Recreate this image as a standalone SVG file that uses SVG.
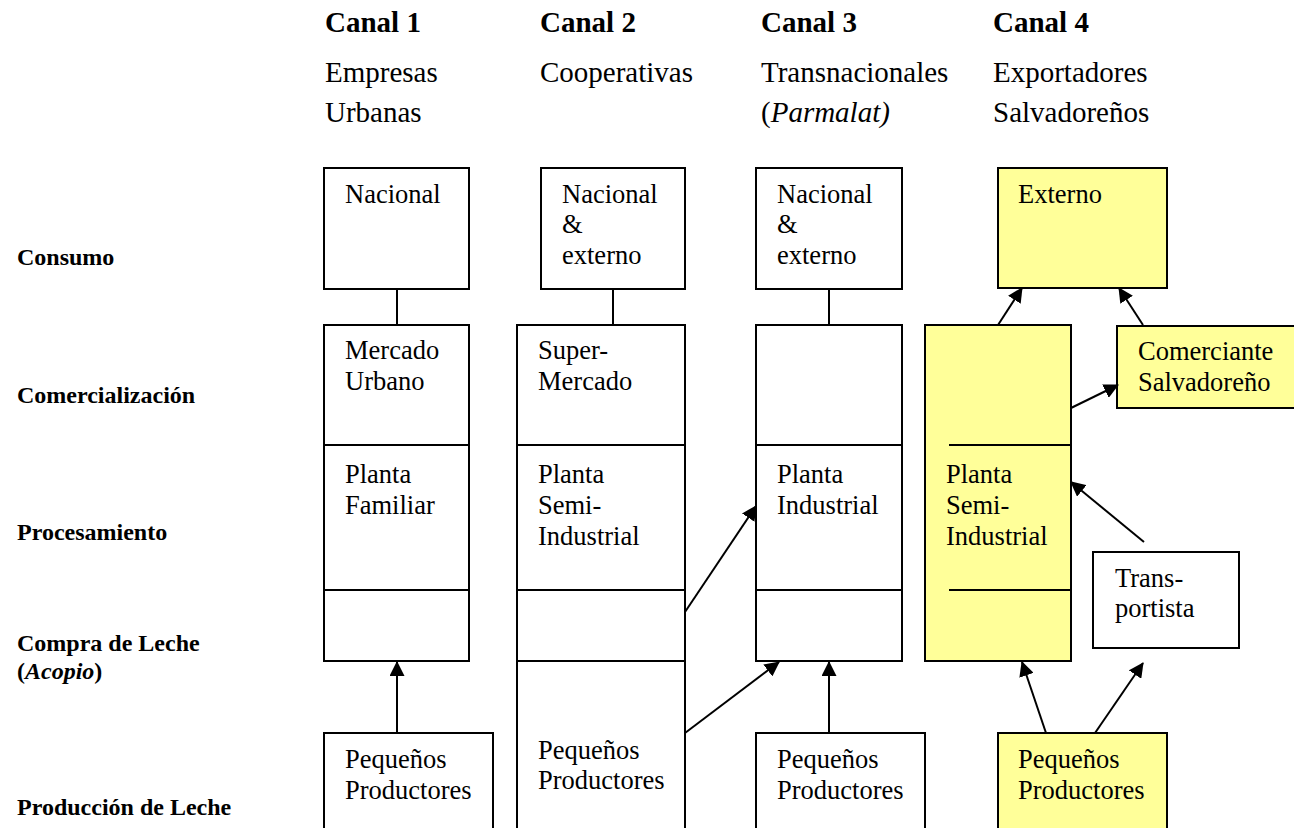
<svg xmlns="http://www.w3.org/2000/svg" width="1294" height="828" viewBox="0 0 1294 828">
<defs>
<style>
text{font-family:"Liberation Serif","Times New Roman",serif;fill:#000}
.hb{font-size:29px;font-weight:bold}
.hr{font-size:29px}
.lb{font-size:24px;font-weight:bold}
.t{font-size:26.5px}
.box{fill:#fff;stroke:#000;stroke-width:2}
.ybox{fill:#FFFF99;stroke:#000;stroke-width:2}
.ln{stroke:#000;stroke-width:2;fill:none}
.ar{stroke:#000;stroke-width:2;fill:none;marker-end:url(#ah)}
</style>
<marker id="ah" markerUnits="userSpaceOnUse" markerWidth="15" markerHeight="15" refX="14" refY="7.5" orient="auto">
<path d="M0,0 L15,7.5 L0,15 z" fill="#000"/>
</marker>
</defs>
<rect width="1294" height="828" fill="#fff"/>

<g id="headers">
<text class="hb" x="325" y="32">Canal 1</text>
<text class="hr" x="325" y="82">Empresas</text>
<text class="hr" x="325" y="122">Urbanas</text>
<text class="hb" x="540" y="32">Canal 2</text>
<text class="hr" x="540" y="82">Cooperativas</text>
<text class="hb" x="761" y="32">Canal 3</text>
<text class="hr" x="761" y="82">Transnacionales</text>
<text class="hr" x="761" y="122">(<tspan font-style="italic">Parmalat)</tspan></text>
<text class="hb" x="993" y="32">Canal 4</text>
<text class="hr" x="993" y="82">Exportadores</text>
<text class="hr" x="993" y="122">Salvadoreños</text>
</g>

<g id="levels">
<text class="lb" x="17" y="265">Consumo</text>
<text class="lb" x="17" y="403">Comercialización</text>
<text class="lb" x="17" y="540">Procesamiento</text>
<text class="lb" x="17" y="651">Compra de Leche</text>
<text class="lb" x="17" y="679">(<tspan font-style="italic">Acopio</tspan>)</text>
<text class="lb" x="17" y="815">Producción de Leche</text>
</g>

<g id="c1-consumo">
<rect class="box" x="324" y="168" width="145" height="121"/>
<text class="t" x="345" y="203">Nacional</text>
</g>
<g id="c1-column">
<rect class="box" x="324" y="325" width="145" height="336"/>
<line class="ln" x1="324" y1="445" x2="469" y2="445"/>
<line class="ln" x1="324" y1="590" x2="469" y2="590"/>
<text class="t" x="345" y="359">Mercado</text>
<text class="t" x="345" y="390">Urbano</text>
<text class="t" x="345" y="483">Planta</text>
<text class="t" x="345" y="514">Familiar</text>
</g>
<g id="c1-productores">
<rect class="box" x="324" y="733" width="169" height="110"/>
<text class="t" x="345" y="768">Pequeños</text>
<text class="t" x="345" y="799">Productores</text>
</g>

<g id="c2-consumo">
<rect class="box" x="541" y="168" width="144" height="121"/>
<text class="t" x="562" y="203">Nacional</text>
<text class="t" x="562" y="233">&amp;</text>
<text class="t" x="562" y="264">externo</text>
</g>
<g id="c2-column">
<rect class="box" x="517" y="325" width="168" height="520"/>
<line class="ln" x1="517" y1="445" x2="685" y2="445"/>
<line class="ln" x1="517" y1="590" x2="685" y2="590"/>
<line class="ln" x1="517" y1="661" x2="685" y2="661"/>
<text class="t" x="538" y="359">Super-</text>
<text class="t" x="538" y="390">Mercado</text>
<text class="t" x="538" y="483">Planta</text>
<text class="t" x="538" y="514">Semi-</text>
<text class="t" x="538" y="545">Industrial</text>
<text class="t" x="538" y="759">Pequeños</text>
<text class="t" x="538" y="789">Productores</text>
</g>

<g id="c3-consumo">
<rect class="box" x="756" y="168" width="146" height="121"/>
<text class="t" x="777" y="203">Nacional</text>
<text class="t" x="777" y="233">&amp;</text>
<text class="t" x="777" y="264">externo</text>
</g>
<g id="c3-column">
<rect class="box" x="756" y="325" width="146" height="336"/>
<line class="ln" x1="756" y1="445" x2="902" y2="445"/>
<line class="ln" x1="756" y1="590" x2="902" y2="590"/>
<text class="t" x="777" y="483">Planta</text>
<text class="t" x="777" y="514">Industrial</text>
</g>
<g id="c3-productores">
<rect class="box" x="756" y="733" width="169" height="110"/>
<text class="t" x="777" y="768">Pequeños</text>
<text class="t" x="777" y="799">Productores</text>
</g>

<g id="c4-externo">
<rect class="ybox" x="998" y="168" width="169" height="120"/>
<text class="t" x="1018" y="203">Externo</text>
</g>
<g id="c4-planta">
<rect class="ybox" x="925" y="325" width="146" height="336"/>
<line class="ln" x1="949" y1="445" x2="1071" y2="445"/>
<line class="ln" x1="949" y1="590" x2="1071" y2="590"/>
<text class="t" x="946" y="483">Planta</text>
<text class="t" x="946" y="514">Semi-</text>
<text class="t" x="946" y="545">Industrial</text>
</g>
<g id="c4-comerciante">
<rect class="ybox" x="1117" y="326" width="190" height="82"/>
<text class="t" x="1138" y="360">Comerciante</text>
<text class="t" x="1138" y="391">Salvadoreño</text>
</g>
<g id="c4-transportista">
<rect class="box" x="1093" y="552" width="146" height="96"/>
<text class="t" x="1115" y="587">Trans-</text>
<text class="t" x="1115" y="617">portista</text>
</g>
<g id="c4-productores">
<rect class="ybox" x="998" y="733" width="169" height="110"/>
<text class="t" x="1018" y="768">Pequeños</text>
<text class="t" x="1018" y="799">Productores</text>
</g>

<g id="connectors">
<line class="ln" x1="397" y1="289" x2="397" y2="325"/>
<line class="ln" x1="613" y1="289" x2="613" y2="325"/>
<line class="ln" x1="829" y1="289" x2="829" y2="325"/>
<line class="ar" x1="397" y1="733" x2="397" y2="662"/>
<line class="ar" x1="685" y1="612" x2="756" y2="506"/>
<line class="ar" x1="685" y1="733" x2="779" y2="662"/>
<line class="ar" x1="829" y1="733" x2="829" y2="662"/>
<line class="ar" x1="1046" y1="733" x2="1022" y2="662"/>
<line class="ar" x1="1095" y1="733" x2="1143" y2="663"/>
<line class="ar" x1="1144" y1="542" x2="1071" y2="482"/>
<line class="ar" x1="998" y1="325" x2="1022" y2="288"/>
<line class="ar" x1="1143" y1="325" x2="1119" y2="288"/>
<line class="ar" x1="1071" y1="408" x2="1118" y2="385"/>
</g>
</svg>
